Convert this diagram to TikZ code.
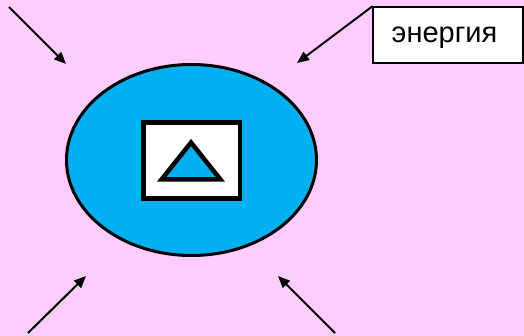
\documentclass[tikz,border=0pt]{standalone}
\usepackage{fontspec}
\setmainfont{Liberation Sans}
\usetikzlibrary{shapes.geometric,arrows.meta}
\definecolor{bgpink}{HTML}{FFCCFF}
\definecolor{cellblue}{HTML}{00B0F0}
\tikzset{
  cell/.style={ellipse, draw=black, fill=cellblue, line width=3pt, minimum width=250pt, minimum height=191pt, inner sep=0pt},
  core/.style={rectangle, draw=black, fill=white, line width=4.5pt, minimum width=96.7pt, minimum height=76pt, inner sep=0pt},
  labelbox/.style={rectangle, draw=black, fill=white, line width=1.3pt, minimum width=150pt, minimum height=56pt, inner xsep=0pt, inner ysep=0pt, text height=20pt, text depth=4pt, font=\fontsize{29}{34}\selectfont},
  flow/.style={line width=2pt, -{Triangle[length=12pt,width=10pt]}}
}
\begin{document}
\begin{tikzpicture}[x=1pt,y=-1pt]
  \fill[bgpink] (0,0) rectangle (524,336);
  \useasboundingbox (0,0) rectangle (524,336);
  \node[cell] (cell) at (191.5,160) {};
  \node[core] (core) at (191.7,160.5) {};
  \draw[line width=4.5pt, fill=cellblue, line join=miter] (191,142.5) coordinate (tA) -- (161.5,179.5) coordinate (tB) -- (220.5,179.5) coordinate (tC) -- cycle;
  \node[labelbox] (lab) at (448,35) {\hspace*{-7pt}энергия};
  \coordinate (s1) at (9,7);
  \coordinate (e1) at (66,64);
  \coordinate (e2) at (297,63);
  \coordinate (s3) at (28,333);
  \coordinate (e3) at (86,276);
  \coordinate (s4) at (335,333);
  \coordinate (e4) at (278,276);
  \draw[flow] (s1) -- (e1);
  \draw[flow] (lab.north west) -- (e2);
  \draw[flow] (s3) -- (e3);
  \draw[flow] (s4) -- (e4);
\end{tikzpicture}
\end{document}
